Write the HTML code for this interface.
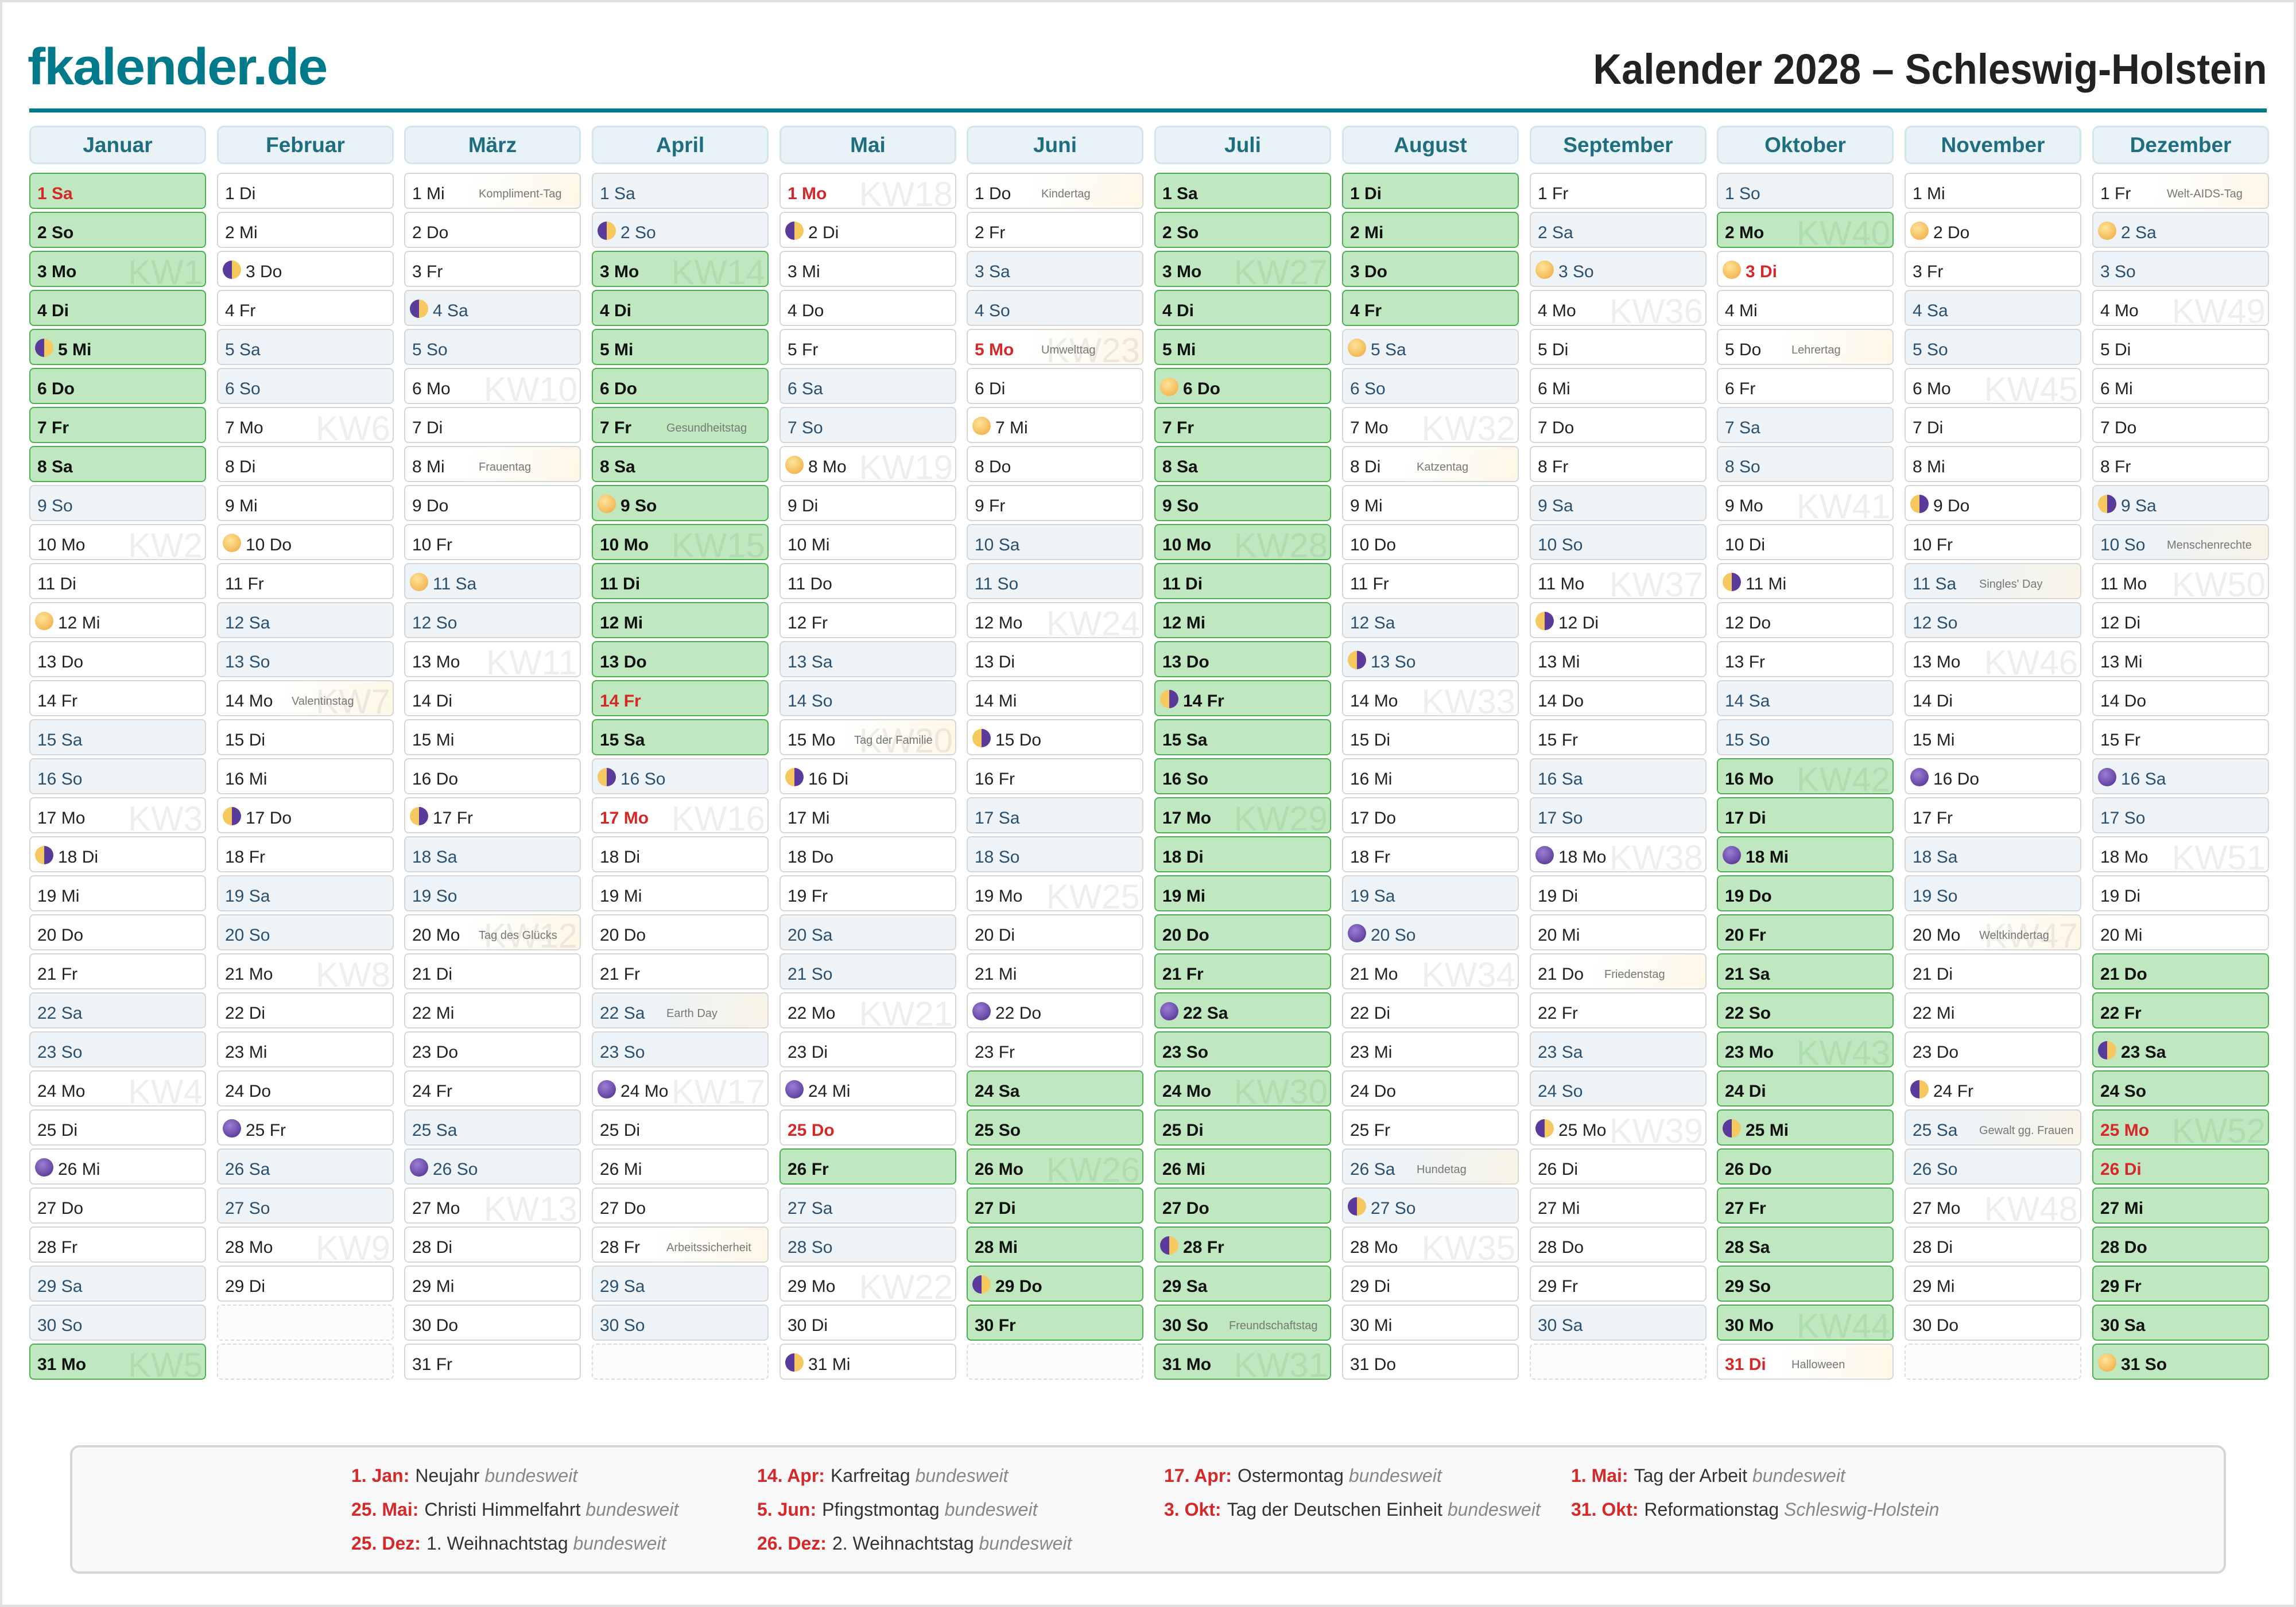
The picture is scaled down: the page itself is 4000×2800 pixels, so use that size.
<!DOCTYPE html>
<html><head><meta charset="utf-8"><style>
*{box-sizing:border-box;margin:0;padding:0}
body{width:4000px;height:2800px;background:#fff;position:relative;overflow:hidden;font-family:"Liberation Sans Narrow","Liberation Sans",sans-serif}
.frame{position:absolute;left:0;top:0;width:4000px;height:2800px;border:4px solid #e2e2e2}
.logo{position:absolute;left:48px;top:66px;font:bold 90px "Liberation Sans",sans-serif;color:#007a8a;letter-spacing:-2px;transform:scaleX(1.04);transform-origin:left}
.title{position:absolute;right:50px;top:78px;font:bold 74px "Liberation Sans",sans-serif;color:#222;transform:scaleX(.93);transform-origin:right}
.line{position:absolute;left:51px;width:3898px;top:189px;height:7px;background:#007a8a}
.m{position:absolute;top:219px;width:308px}
.h{height:67px;border:3px solid #d3e6ec;border-radius:12px;background:#e9f2f6;color:#1f6e80;font:bold 37px "Liberation Sans Narrow","Liberation Sans",sans-serif;text-align:center;line-height:61px;margin-bottom:15px}
.c{position:relative;height:63px;margin-bottom:5px;border:2px solid #d6d6d6;border-radius:8px;background:#fff;font-size:30px;line-height:70px;padding-left:12px;color:#222;overflow:hidden;white-space:nowrap}
.w{background:#eef3f7;color:#2a5070}
.g{background:#c0e8c0;border-color:#4caf50;font-weight:bold;color:#111}
.r{color:#d62828;font-weight:bold}
.e{border:2px dashed #dcdcdc;background:#fcfcfc}
.s{background:linear-gradient(100deg,#fff 35%,#fdf7e6)}
.w.s{background:linear-gradient(100deg,#eef3f7 35%,#f8f4e6)}
.p{padding-left:48px}
.t{position:absolute;left:128px;top:0;font-size:20px;font-weight:normal;color:#777;line-height:70px}
.k{position:absolute;right:4px;top:4px;font:60px "Liberation Sans",sans-serif;line-height:63px;color:rgba(0,0,0,0.065);font-weight:normal}
.g .k{color:rgba(0,110,0,0.09)}
.mo{position:absolute;left:8px;top:15px;width:32px;height:32px;border-radius:50%}
.mf{background:radial-gradient(circle at 40% 35%,#ffe49a,#eea63a)}
.mn{background:radial-gradient(circle at 40% 35%,#9c7ed4,#4a2a8a)}
.q1{background:linear-gradient(90deg,#5a3a9a 50%,#f5c860 50%)}
.q3{background:linear-gradient(90deg,#f5c860 50%,#5a3a9a 50%)}
.leg{position:absolute;left:122px;top:2518px;width:3756px;height:224px;border:4px solid #d6d6d6;border-radius:16px;background:#f9f9f9}
.li{position:absolute;font-size:32px;color:#333;white-space:nowrap}
.li b{color:#d62828;margin-right:10px}
.li i{color:#888}
</style></head><body>
<div class="frame"></div>
<div class="logo">fkalender.de</div>
<div class="title">Kalender 2028 – Schleswig-Holstein</div>
<div class="line"></div>

<div class="m" style="left:51px"><div class="h">Januar</div>
<div class="c g r">1 Sa</div><div class="c g">2 So</div><div class="c g">3 Mo<span class="k">KW1</span></div><div class="c g">4 Di</div><div class="c g p"><i class="mo q1"></i>5 Mi</div><div class="c g">6 Do</div><div class="c g">7 Fr</div><div class="c g">8 Sa</div><div class="c w">9 So</div><div class="c">10 Mo<span class="k">KW2</span></div><div class="c">11 Di</div><div class="c p"><i class="mo mf"></i>12 Mi</div><div class="c">13 Do</div><div class="c">14 Fr</div><div class="c w">15 Sa</div><div class="c w">16 So</div><div class="c">17 Mo<span class="k">KW3</span></div><div class="c p"><i class="mo q3"></i>18 Di</div><div class="c">19 Mi</div><div class="c">20 Do</div><div class="c">21 Fr</div><div class="c w">22 Sa</div><div class="c w">23 So</div><div class="c">24 Mo<span class="k">KW4</span></div><div class="c">25 Di</div><div class="c p"><i class="mo mn"></i>26 Mi</div><div class="c">27 Do</div><div class="c">28 Fr</div><div class="c w">29 Sa</div><div class="c w">30 So</div><div class="c g">31 Mo<span class="k">KW5</span></div>
</div>

<div class="m" style="left:378px"><div class="h">Februar</div>
<div class="c">1 Di</div><div class="c">2 Mi</div><div class="c p"><i class="mo q1"></i>3 Do</div><div class="c">4 Fr</div><div class="c w">5 Sa</div><div class="c w">6 So</div><div class="c">7 Mo<span class="k">KW6</span></div><div class="c">8 Di</div><div class="c">9 Mi</div><div class="c p"><i class="mo mf"></i>10 Do</div><div class="c">11 Fr</div><div class="c w">12 Sa</div><div class="c w">13 So</div><div class="c s">14 Mo<span class="k">KW7</span><span class="t">Valentinstag</span></div><div class="c">15 Di</div><div class="c">16 Mi</div><div class="c p"><i class="mo q3"></i>17 Do</div><div class="c">18 Fr</div><div class="c w">19 Sa</div><div class="c w">20 So</div><div class="c">21 Mo<span class="k">KW8</span></div><div class="c">22 Di</div><div class="c">23 Mi</div><div class="c">24 Do</div><div class="c p"><i class="mo mn"></i>25 Fr</div><div class="c w">26 Sa</div><div class="c w">27 So</div><div class="c">28 Mo<span class="k">KW9</span></div><div class="c">29 Di</div><div class="c e"></div><div class="c e"></div>
</div>

<div class="m" style="left:704px"><div class="h">März</div>
<div class="c s">1 Mi<span class="t">Kompliment-Tag</span></div><div class="c">2 Do</div><div class="c">3 Fr</div><div class="c w p"><i class="mo q1"></i>4 Sa</div><div class="c w">5 So</div><div class="c">6 Mo<span class="k">KW10</span></div><div class="c">7 Di</div><div class="c s">8 Mi<span class="t">Frauentag</span></div><div class="c">9 Do</div><div class="c">10 Fr</div><div class="c w p"><i class="mo mf"></i>11 Sa</div><div class="c w">12 So</div><div class="c">13 Mo<span class="k">KW11</span></div><div class="c">14 Di</div><div class="c">15 Mi</div><div class="c">16 Do</div><div class="c p"><i class="mo q3"></i>17 Fr</div><div class="c w">18 Sa</div><div class="c w">19 So</div><div class="c s">20 Mo<span class="k">KW12</span><span class="t">Tag des Glücks</span></div><div class="c">21 Di</div><div class="c">22 Mi</div><div class="c">23 Do</div><div class="c">24 Fr</div><div class="c w">25 Sa</div><div class="c w p"><i class="mo mn"></i>26 So</div><div class="c">27 Mo<span class="k">KW13</span></div><div class="c">28 Di</div><div class="c">29 Mi</div><div class="c">30 Do</div><div class="c">31 Fr</div>
</div>

<div class="m" style="left:1031px"><div class="h">April</div>
<div class="c w">1 Sa</div><div class="c w p"><i class="mo q1"></i>2 So</div><div class="c g">3 Mo<span class="k">KW14</span></div><div class="c g">4 Di</div><div class="c g">5 Mi</div><div class="c g">6 Do</div><div class="c g">7 Fr<span class="t">Gesundheitstag</span></div><div class="c g">8 Sa</div><div class="c g p"><i class="mo mf"></i>9 So</div><div class="c g">10 Mo<span class="k">KW15</span></div><div class="c g">11 Di</div><div class="c g">12 Mi</div><div class="c g">13 Do</div><div class="c g r">14 Fr</div><div class="c g">15 Sa</div><div class="c w p"><i class="mo q3"></i>16 So</div><div class="c r">17 Mo<span class="k">KW16</span></div><div class="c">18 Di</div><div class="c">19 Mi</div><div class="c">20 Do</div><div class="c">21 Fr</div><div class="c w s">22 Sa<span class="t">Earth Day</span></div><div class="c w">23 So</div><div class="c p"><i class="mo mn"></i>24 Mo<span class="k">KW17</span></div><div class="c">25 Di</div><div class="c">26 Mi</div><div class="c">27 Do</div><div class="c s">28 Fr<span class="t">Arbeitssicherheit</span></div><div class="c w">29 Sa</div><div class="c w">30 So</div><div class="c e"></div>
</div>

<div class="m" style="left:1358px"><div class="h">Mai</div>
<div class="c r">1 Mo<span class="k">KW18</span></div><div class="c p"><i class="mo q1"></i>2 Di</div><div class="c">3 Mi</div><div class="c">4 Do</div><div class="c">5 Fr</div><div class="c w">6 Sa</div><div class="c w">7 So</div><div class="c p"><i class="mo mf"></i>8 Mo<span class="k">KW19</span></div><div class="c">9 Di</div><div class="c">10 Mi</div><div class="c">11 Do</div><div class="c">12 Fr</div><div class="c w">13 Sa</div><div class="c w">14 So</div><div class="c s">15 Mo<span class="k">KW20</span><span class="t">Tag der Familie</span></div><div class="c p"><i class="mo q3"></i>16 Di</div><div class="c">17 Mi</div><div class="c">18 Do</div><div class="c">19 Fr</div><div class="c w">20 Sa</div><div class="c w">21 So</div><div class="c">22 Mo<span class="k">KW21</span></div><div class="c">23 Di</div><div class="c p"><i class="mo mn"></i>24 Mi</div><div class="c r">25 Do</div><div class="c g">26 Fr</div><div class="c w">27 Sa</div><div class="c w">28 So</div><div class="c">29 Mo<span class="k">KW22</span></div><div class="c">30 Di</div><div class="c p"><i class="mo q1"></i>31 Mi</div>
</div>

<div class="m" style="left:1684px"><div class="h">Juni</div>
<div class="c s">1 Do<span class="t">Kindertag</span></div><div class="c">2 Fr</div><div class="c w">3 Sa</div><div class="c w">4 So</div><div class="c r s">5 Mo<span class="k">KW23</span><span class="t">Umwelttag</span></div><div class="c">6 Di</div><div class="c p"><i class="mo mf"></i>7 Mi</div><div class="c">8 Do</div><div class="c">9 Fr</div><div class="c w">10 Sa</div><div class="c w">11 So</div><div class="c">12 Mo<span class="k">KW24</span></div><div class="c">13 Di</div><div class="c">14 Mi</div><div class="c p"><i class="mo q3"></i>15 Do</div><div class="c">16 Fr</div><div class="c w">17 Sa</div><div class="c w">18 So</div><div class="c">19 Mo<span class="k">KW25</span></div><div class="c">20 Di</div><div class="c">21 Mi</div><div class="c p"><i class="mo mn"></i>22 Do</div><div class="c">23 Fr</div><div class="c g">24 Sa</div><div class="c g">25 So</div><div class="c g">26 Mo<span class="k">KW26</span></div><div class="c g">27 Di</div><div class="c g">28 Mi</div><div class="c g p"><i class="mo q1"></i>29 Do</div><div class="c g">30 Fr</div><div class="c e"></div>
</div>

<div class="m" style="left:2011px"><div class="h">Juli</div>
<div class="c g">1 Sa</div><div class="c g">2 So</div><div class="c g">3 Mo<span class="k">KW27</span></div><div class="c g">4 Di</div><div class="c g">5 Mi</div><div class="c g p"><i class="mo mf"></i>6 Do</div><div class="c g">7 Fr</div><div class="c g">8 Sa</div><div class="c g">9 So</div><div class="c g">10 Mo<span class="k">KW28</span></div><div class="c g">11 Di</div><div class="c g">12 Mi</div><div class="c g">13 Do</div><div class="c g p"><i class="mo q3"></i>14 Fr</div><div class="c g">15 Sa</div><div class="c g">16 So</div><div class="c g">17 Mo<span class="k">KW29</span></div><div class="c g">18 Di</div><div class="c g">19 Mi</div><div class="c g">20 Do</div><div class="c g">21 Fr</div><div class="c g p"><i class="mo mn"></i>22 Sa</div><div class="c g">23 So</div><div class="c g">24 Mo<span class="k">KW30</span></div><div class="c g">25 Di</div><div class="c g">26 Mi</div><div class="c g">27 Do</div><div class="c g p"><i class="mo q1"></i>28 Fr</div><div class="c g">29 Sa</div><div class="c g">30 So<span class="t">Freundschaftstag</span></div><div class="c g">31 Mo<span class="k">KW31</span></div>
</div>

<div class="m" style="left:2338px"><div class="h">August</div>
<div class="c g">1 Di</div><div class="c g">2 Mi</div><div class="c g">3 Do</div><div class="c g">4 Fr</div><div class="c w p"><i class="mo mf"></i>5 Sa</div><div class="c w">6 So</div><div class="c">7 Mo<span class="k">KW32</span></div><div class="c s">8 Di<span class="t">Katzentag</span></div><div class="c">9 Mi</div><div class="c">10 Do</div><div class="c">11 Fr</div><div class="c w">12 Sa</div><div class="c w p"><i class="mo q3"></i>13 So</div><div class="c">14 Mo<span class="k">KW33</span></div><div class="c">15 Di</div><div class="c">16 Mi</div><div class="c">17 Do</div><div class="c">18 Fr</div><div class="c w">19 Sa</div><div class="c w p"><i class="mo mn"></i>20 So</div><div class="c">21 Mo<span class="k">KW34</span></div><div class="c">22 Di</div><div class="c">23 Mi</div><div class="c">24 Do</div><div class="c">25 Fr</div><div class="c w s">26 Sa<span class="t">Hundetag</span></div><div class="c w p"><i class="mo q1"></i>27 So</div><div class="c">28 Mo<span class="k">KW35</span></div><div class="c">29 Di</div><div class="c">30 Mi</div><div class="c">31 Do</div>
</div>

<div class="m" style="left:2665px"><div class="h">September</div>
<div class="c">1 Fr</div><div class="c w">2 Sa</div><div class="c w p"><i class="mo mf"></i>3 So</div><div class="c">4 Mo<span class="k">KW36</span></div><div class="c">5 Di</div><div class="c">6 Mi</div><div class="c">7 Do</div><div class="c">8 Fr</div><div class="c w">9 Sa</div><div class="c w">10 So</div><div class="c">11 Mo<span class="k">KW37</span></div><div class="c p"><i class="mo q3"></i>12 Di</div><div class="c">13 Mi</div><div class="c">14 Do</div><div class="c">15 Fr</div><div class="c w">16 Sa</div><div class="c w">17 So</div><div class="c p"><i class="mo mn"></i>18 Mo<span class="k">KW38</span></div><div class="c">19 Di</div><div class="c">20 Mi</div><div class="c s">21 Do<span class="t">Friedenstag</span></div><div class="c">22 Fr</div><div class="c w">23 Sa</div><div class="c w">24 So</div><div class="c p"><i class="mo q1"></i>25 Mo<span class="k">KW39</span></div><div class="c">26 Di</div><div class="c">27 Mi</div><div class="c">28 Do</div><div class="c">29 Fr</div><div class="c w">30 Sa</div><div class="c e"></div>
</div>

<div class="m" style="left:2991px"><div class="h">Oktober</div>
<div class="c w">1 So</div><div class="c g">2 Mo<span class="k">KW40</span></div><div class="c r p"><i class="mo mf"></i>3 Di</div><div class="c">4 Mi</div><div class="c s">5 Do<span class="t">Lehrertag</span></div><div class="c">6 Fr</div><div class="c w">7 Sa</div><div class="c w">8 So</div><div class="c">9 Mo<span class="k">KW41</span></div><div class="c">10 Di</div><div class="c p"><i class="mo q3"></i>11 Mi</div><div class="c">12 Do</div><div class="c">13 Fr</div><div class="c w">14 Sa</div><div class="c w">15 So</div><div class="c g">16 Mo<span class="k">KW42</span></div><div class="c g">17 Di</div><div class="c g p"><i class="mo mn"></i>18 Mi</div><div class="c g">19 Do</div><div class="c g">20 Fr</div><div class="c g">21 Sa</div><div class="c g">22 So</div><div class="c g">23 Mo<span class="k">KW43</span></div><div class="c g">24 Di</div><div class="c g p"><i class="mo q1"></i>25 Mi</div><div class="c g">26 Do</div><div class="c g">27 Fr</div><div class="c g">28 Sa</div><div class="c g">29 So</div><div class="c g">30 Mo<span class="k">KW44</span></div><div class="c r s">31 Di<span class="t">Halloween</span></div>
</div>

<div class="m" style="left:3318px"><div class="h">November</div>
<div class="c">1 Mi</div><div class="c p"><i class="mo mf"></i>2 Do</div><div class="c">3 Fr</div><div class="c w">4 Sa</div><div class="c w">5 So</div><div class="c">6 Mo<span class="k">KW45</span></div><div class="c">7 Di</div><div class="c">8 Mi</div><div class="c p"><i class="mo q3"></i>9 Do</div><div class="c">10 Fr</div><div class="c w s">11 Sa<span class="t">Singles' Day</span></div><div class="c w">12 So</div><div class="c">13 Mo<span class="k">KW46</span></div><div class="c">14 Di</div><div class="c">15 Mi</div><div class="c p"><i class="mo mn"></i>16 Do</div><div class="c">17 Fr</div><div class="c w">18 Sa</div><div class="c w">19 So</div><div class="c s">20 Mo<span class="k">KW47</span><span class="t">Weltkindertag</span></div><div class="c">21 Di</div><div class="c">22 Mi</div><div class="c">23 Do</div><div class="c p"><i class="mo q1"></i>24 Fr</div><div class="c w s">25 Sa<span class="t">Gewalt gg. Frauen</span></div><div class="c w">26 So</div><div class="c">27 Mo<span class="k">KW48</span></div><div class="c">28 Di</div><div class="c">29 Mi</div><div class="c">30 Do</div><div class="c e"></div>
</div>

<div class="m" style="left:3645px"><div class="h">Dezember</div>
<div class="c s">1 Fr<span class="t">Welt-AIDS-Tag</span></div><div class="c w p"><i class="mo mf"></i>2 Sa</div><div class="c w">3 So</div><div class="c">4 Mo<span class="k">KW49</span></div><div class="c">5 Di</div><div class="c">6 Mi</div><div class="c">7 Do</div><div class="c">8 Fr</div><div class="c w p"><i class="mo q3"></i>9 Sa</div><div class="c w s">10 So<span class="t">Menschenrechte</span></div><div class="c">11 Mo<span class="k">KW50</span></div><div class="c">12 Di</div><div class="c">13 Mi</div><div class="c">14 Do</div><div class="c">15 Fr</div><div class="c w p"><i class="mo mn"></i>16 Sa</div><div class="c w">17 So</div><div class="c">18 Mo<span class="k">KW51</span></div><div class="c">19 Di</div><div class="c">20 Mi</div><div class="c g">21 Do</div><div class="c g">22 Fr</div><div class="c g p"><i class="mo q1"></i>23 Sa</div><div class="c g">24 So</div><div class="c g r">25 Mo<span class="k">KW52</span></div><div class="c g r">26 Di</div><div class="c g">27 Mi</div><div class="c g">28 Do</div><div class="c g">29 Fr</div><div class="c g">30 Sa</div><div class="c g p"><i class="mo mf"></i>31 So</div>
</div>

<div class="leg"></div>
<div class="li" style="left:612px;top:2553px"><b>1. Jan:</b>Neujahr <i>bundesweit</i></div>
<div class="li" style="left:1319px;top:2553px"><b>14. Apr:</b>Karfreitag <i>bundesweit</i></div>
<div class="li" style="left:2028px;top:2553px"><b>17. Apr:</b>Ostermontag <i>bundesweit</i></div>
<div class="li" style="left:2737px;top:2553px"><b>1. Mai:</b>Tag der Arbeit <i>bundesweit</i></div>
<div class="li" style="left:612px;top:2612px"><b>25. Mai:</b>Christi Himmelfahrt <i>bundesweit</i></div>
<div class="li" style="left:1319px;top:2612px"><b>5. Jun:</b>Pfingstmontag <i>bundesweit</i></div>
<div class="li" style="left:2028px;top:2612px"><b>3. Okt:</b>Tag der Deutschen Einheit <i>bundesweit</i></div>
<div class="li" style="left:2737px;top:2612px"><b>31. Okt:</b>Reformationstag <i>Schleswig-Holstein</i></div>
<div class="li" style="left:612px;top:2671px"><b>25. Dez:</b>1. Weihnachtstag <i>bundesweit</i></div>
<div class="li" style="left:1319px;top:2671px"><b>26. Dez:</b>2. Weihnachtstag <i>bundesweit</i></div>
</body></html>
